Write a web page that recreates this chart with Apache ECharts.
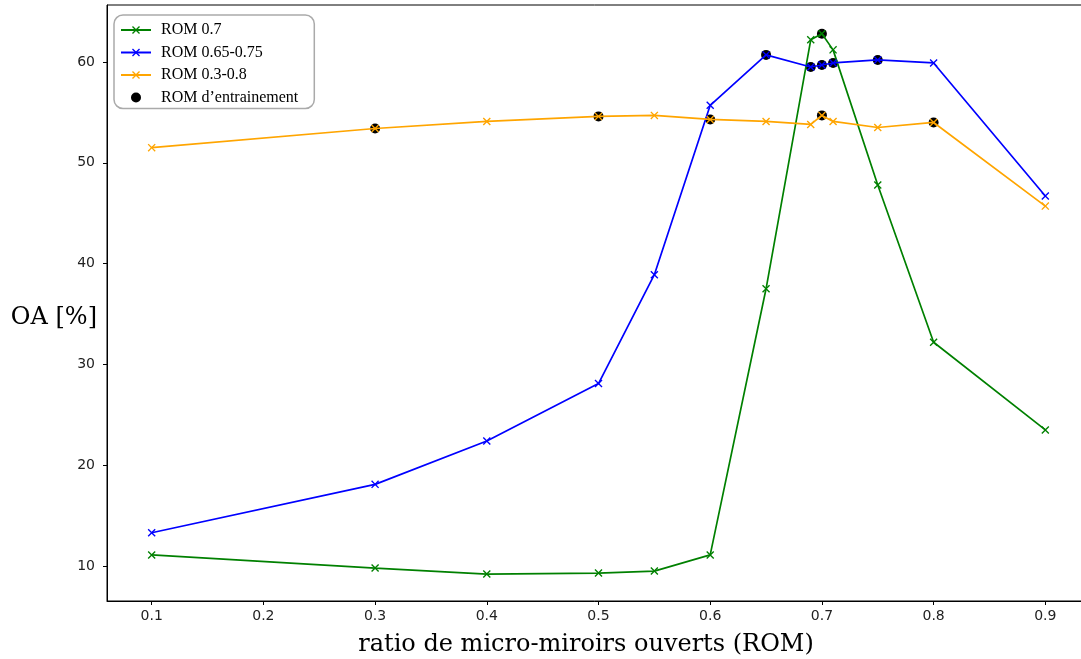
<!DOCTYPE html>
<html>
<head>
<meta charset="utf-8">
<script src="https://cdn.jsdelivr.net/npm/echarts@6/dist/echarts.min.js"></script>
<style>html,body{margin:0;padding:0;background:#fff}#c{width:1081px;height:659px}</style>
</head>
<body>
<div id="c"></div>
<script>
const xs = [0.1, 0.3, 0.4, 0.5, 0.55, 0.6, 0.65, 0.69, 0.7, 0.71, 0.75, 0.8, 0.9];
const rom07 = [11.1, 9.8, 9.2, 9.3, 9.5, 11.1, 37.5, 62.2, 62.8, 61.2, 47.8, 32.2, 23.5];
const rom065_075 = [13.3, 18.1, 22.4, 28.1, 38.9, 55.7, 60.7, 59.5, 59.7, 59.9, 60.2, 59.9, 46.7];
const rom03_08 = [51.5, 53.4, 54.1, 54.6, 54.7, 54.3, 54.1, 53.8, 54.7, 54.1, 53.5, 54.0, 45.7];
const train07 = [0.7];
const train065_075 = [0.65, 0.69, 0.7, 0.71, 0.75];
const train03_08 = [0.3, 0.5, 0.6, 0.7, 0.8];
const xTicks = [0.1, 0.2, 0.3, 0.4, 0.5, 0.6, 0.7, 0.8, 0.9];
const yTicks = [10, 20, 30, 40, 50, 60];
const names = ['ROM 0.7', 'ROM 0.65-0.75', 'ROM 0.3-0.8', 'ROM d\u2019entrainement'];
const xTitle = 'ratio de micro-miroirs ouverts (ROM)';
const yTitle = 'OA [%]';

const crossPath = 'path://M0,1.2L1.2,0L5,3.8L8.8,0L10,1.2L6.2,5L10,8.8L8.8,10L5,6.2L1.2,10L0,8.8L3.8,5Z';
const pairs = ys => xs.map((x, i) => [x, ys[i]]);
const trainPts = [];
[[train07, rom07], [train065_075, rom065_075], [train03_08, rom03_08]].forEach(([tr, ys]) => {
  tr.forEach(x => { const i = xs.indexOf(x); trainPts.push([x, ys[i]]); });
});
function lineSeries(name, ys, color) {
  return {
    name, type: 'line', data: pairs(ys), symbol: crossPath, symbolSize: 8,
    lineStyle: { color, width: 1.7 }, itemStyle: { color }, z: 3,
    emphasis: { disabled: true }
  };
}
const chart = echarts.init(document.getElementById('c'), null, { renderer: 'canvas' });
chart.setOption({
  animation: false,
  backgroundColor: '#fff',
  grid: { left: 107, top: 5, right: -9, bottom: 58, show: true, borderColor: '#000', borderWidth: 1,
          containLabel: false, outerBoundsMode: 'none' },
  graphic: [
    { type: 'text', x: 97, y: 318, style: { text: yTitle, font: '24px "DejaVu Serif"', fill: '#000', align: 'right', verticalAlign: 'middle' } },
    { type: 'text', x: 586, y: 645, style: { text: xTitle, font: '24px "DejaVu Serif"', fill: '#000', align: 'center', verticalAlign: 'middle' } }
  ],
  legend: {
    orient: 'vertical', left: 114, top: 15, z: 10,
    data: names,
    itemWidth: 30, itemHeight: 10, itemGap: 6.5,
    padding: [7, 16, 3, 6],
    backgroundColor: '#fff',
    borderColor: '#aaa', borderWidth: 1.5, borderRadius: 9,
    textStyle: { fontFamily: 'Liberation Serif', fontSize: 16, color: '#000', padding: [0, 0, 0, 5] }
  },
  xAxis: {
    type: 'value', min: 0.06, max: 0.94,
    axisLine: { show: true, onZero: false, lineStyle: { color: '#000', width: 1 } },
    axisTick: { show: true, length: 4, customValues: xTicks, lineStyle: { color: '#000' } },
    axisLabel: { customValues: xTicks, formatter: v => String(v), fontFamily: 'DejaVu Sans', fontSize: 14, color: '#222', margin: 8 },
    splitLine: { show: false }
  },
  yAxis: {
    type: 'value', min: 6.53, max: 65.65,
    axisLine: { show: true, onZero: false, lineStyle: { color: '#000', width: 1 } },
    axisTick: { show: true, length: 4, customValues: yTicks, lineStyle: { color: '#000' } },
    axisLabel: { customValues: yTicks, fontFamily: 'DejaVu Sans', fontSize: 14, color: '#222', margin: 12 },
    splitLine: { show: false }
  },
  series: [
    lineSeries(names[0], rom07, '#008000'),
    lineSeries(names[1], rom065_075, '#0000ff'),
    lineSeries(names[2], rom03_08, '#ffa500'),
    { name: names[3], type: 'scatter', data: trainPts, symbol: 'circle', symbolSize: 10,
      itemStyle: { color: '#000', opacity: 1 }, z: 2, emphasis: { disabled: true } }
  ]
});
</script>
</body>
</html>
